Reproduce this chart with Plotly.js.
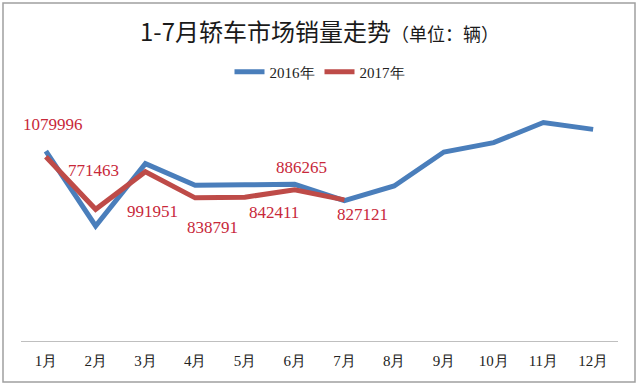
<!DOCTYPE html>
<html>
<head>
<meta charset="utf-8">
<script src="https://cdn.plot.ly/plotly-3.0.1.min.js"></script>
<style>
  html, body { margin: 0; padding: 0; background: #ffffff; }
  #chart { width: 640px; height: 387px; }
</style>
</head>
<body>
<div id="chart"></div>
<script>
const months = ['1月','2月','3月','4月','5月','6月','7月','8月','9月','10月','11月','12月'];
const sales2016 = [1113000, 674000, 1039000, 912000, 915000, 918000, 822000, 908000, 1107000, 1162000, 1280000, 1240000];
const sales2017 = [1079996, 771463, 991951, 838791, 842411, 886265, 827121];
const labels2017 = ['1079996','771463','991951','838791','842411','886265','827121'];

// label offsets (px) relative to each 2017 point
const labelShiftX = [7, -2, 7, 17, 29, 7, 18];
const labelShiftY = [32, 39, -40, -30, -15, 22, -15];

const SERIF = 'Liberation Serif';

const traces = [
  {
    x: months, y: sales2016, type: 'scatter', mode: 'lines', name: '2016年',
    line: { color: '#4A7EBB', width: 5 }
  },
  {
    x: months.slice(0, sales2017.length), y: sales2017, type: 'scatter', mode: 'lines', name: '2017年',
    line: { color: '#BE4B48', width: 5 }
  }
];

const annotations = sales2017.map((v, i) => ({
  x: months[i], y: v, xref: 'x', yref: 'y',
  text: labels2017[i], showarrow: false,
  xshift: labelShiftX[i], yshift: labelShiftY[i],
  font: { family: SERIF, size: 17, color: '#C8283A' }
}));

const W = 640, H = 387, L = 21, R = 22, T = 100, B = 46;
const pw = W - L - R, ph = H - T - B;
const px = v => (v - L) / pw;
const py = v => (H - B - v) / ph;

const layout = {
  width: W, height: H,
  margin: { l: L, r: R, t: T, b: B },
  paper_bgcolor: '#ffffff', plot_bgcolor: '#ffffff',
  font: { family: SERIF },
  title: {
    text: '1-7月轿车市场销量走势<span style="font-size:18px">（单位：辆）</span>',
    font: { family: 'Noto Sans CJK SC', size: 24, color: '#1a1a1a' },
    x: 0.5, xref: 'paper', xanchor: 'center',
    y: 1 - 33 / H, yref: 'container', yanchor: 'middle'
  },
  showlegend: true,
  legend: {
    orientation: 'h', x: 0.5, xanchor: 'center', y: py(72), yanchor: 'middle',
    font: { family: SERIF, size: 15, color: '#222' },
    itemwidth: 30, bgcolor: 'rgba(0,0,0,0)'
  },
  xaxis: {
    type: 'category', range: [-0.5, 11.5], fixedrange: true,
    showline: true, linecolor: '#BFBFBF', linewidth: 1,
    showgrid: false, zeroline: false,
    ticks: 'outside', ticklen: 6, tickcolor: 'rgba(0,0,0,0)',
    tickfont: { family: SERIF, size: 15, color: '#222' }
  },
  yaxis: {
    range: [0, 1412000], visible: false, showgrid: false, zeroline: false, fixedrange: true
  },
  annotations: annotations,
  shapes: [
    { type: 'rect', xref: 'paper', yref: 'paper',
      x0: px(3), x1: px(635), y0: py(382), y1: py(3),
      line: { color: '#A0A0A0', width: 1.5 }, fillcolor: 'rgba(0,0,0,0)', layer: 'below' }
  ]
};

Plotly.newPlot('chart', traces, layout, { displayModeBar: false, staticPlot: true });
</script>
</body>
</html>
